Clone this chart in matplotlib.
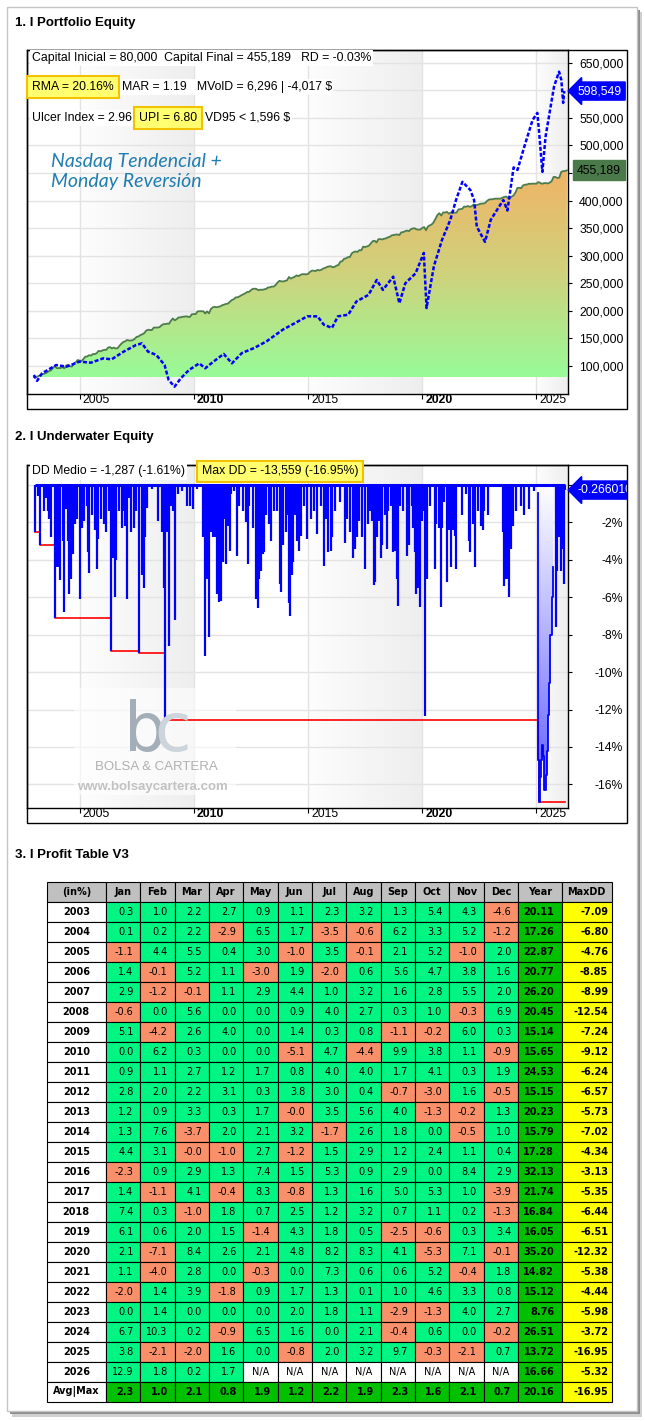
import numpy as np
import matplotlib
matplotlib.use('Agg')
import matplotlib.pyplot as plt
from matplotlib.colors import LinearSegmentedColormap
from matplotlib.patches import Rectangle
from matplotlib.table import Table
from matplotlib.transforms import blended_transform_factory, ScaledTranslation

# ------------------------------------------------------------------
# values
years = list(range(2003, 2027))
month_names = ['Jan', 'Feb', 'Mar', 'Apr', 'May', 'Jun',
               'Jul', 'Aug', 'Sep', 'Oct', 'Nov', 'Dec']

monthly_ret = [
    ['0.3', '1.0', '2.2', '2.7', '0.9', '1.1', '2.3', '3.2', '1.3', '5.4', '4.3', '-4.6'],
    ['0.1', '0.2', '2.2', '-2.9', '6.5', '1.7', '-3.5', '-0.6', '6.2', '3.3', '5.2', '-1.2'],
    ['-1.1', '4.4', '5.5', '0.4', '3.0', '-1.0', '3.5', '-0.1', '2.1', '5.2', '-1.0', '2.0'],
    ['1.4', '-0.1', '5.2', '1.1', '-3.0', '1.9', '-2.0', '0.6', '5.6', '4.7', '3.8', '1.6'],
    ['2.9', '-1.2', '-0.1', '1.1', '2.9', '4.4', '1.0', '3.2', '1.6', '2.8', '5.5', '2.0'],
    ['-0.6', '0.0', '5.6', '0.0', '0.0', '0.9', '4.0', '2.7', '0.3', '1.0', '-0.3', '6.9'],
    ['5.1', '-4.2', '2.6', '4.0', '0.0', '1.4', '0.3', '0.8', '-1.1', '-0.2', '6.0', '0.3'],
    ['0.0', '6.2', '0.3', '0.0', '0.0', '-5.1', '4.7', '-4.4', '9.9', '3.8', '1.1', '-0.9'],
    ['0.9', '1.1', '2.7', '1.2', '1.7', '0.8', '4.0', '4.0', '1.7', '4.1', '0.3', '1.9'],
    ['2.8', '2.0', '2.2', '3.1', '0.3', '3.8', '3.0', '0.4', '-0.7', '-3.0', '1.6', '-0.5'],
    ['1.2', '0.9', '3.3', '0.3', '1.7', '-0.0', '3.5', '5.6', '4.0', '-1.3', '-0.2', '1.3'],
    ['1.3', '7.6', '-3.7', '2.0', '2.1', '3.2', '-1.7', '2.6', '1.8', '0.0', '-0.5', '1.0'],
    ['4.4', '3.1', '-0.0', '-1.0', '2.7', '-1.2', '1.5', '2.9', '1.2', '2.4', '1.1', '0.4'],
    ['-2.3', '0.9', '2.9', '1.3', '7.4', '1.5', '5.3', '0.9', '2.9', '0.0', '8.4', '2.9'],
    ['1.4', '-1.1', '4.1', '-0.4', '8.3', '-0.8', '1.3', '1.6', '5.0', '5.3', '1.0', '-3.9'],
    ['7.4', '0.3', '-1.0', '1.8', '0.7', '2.5', '1.2', '3.2', '0.7', '1.1', '0.2', '-1.3'],
    ['6.1', '0.6', '2.0', '1.5', '-1.4', '4.3', '1.8', '0.5', '-2.5', '-0.6', '0.3', '3.4'],
    ['2.1', '-7.1', '8.4', '2.6', '2.1', '4.8', '8.2', '8.3', '4.1', '-5.3', '7.1', '-0.1'],
    ['1.1', '-4.0', '2.8', '0.0', '-0.3', '0.0', '7.3', '0.6', '0.6', '5.2', '-0.4', '1.8'],
    ['-2.0', '1.4', '3.9', '-1.8', '0.9', '1.7', '1.3', '0.1', '1.0', '4.6', '3.3', '0.8'],
    ['0.0', '1.4', '0.0', '0.0', '0.0', '2.0', '1.8', '1.1', '-2.9', '-1.3', '4.0', '2.7'],
    ['6.7', '10.3', '0.2', '-0.9', '6.5', '1.6', '0.0', '2.1', '-0.4', '0.6', '0.0', '-0.2'],
    ['3.8', '-2.1', '-2.0', '1.6', '0.0', '-0.8', '2.0', '3.2', '9.7', '-0.3', '-2.1', '0.7'],
    ['12.9', '1.8', '0.2', '1.7', 'N/A', 'N/A', 'N/A', 'N/A', 'N/A', 'N/A', 'N/A', 'N/A'],
]
year_ret = ['20.11', '17.26', '22.87', '20.77', '26.20', '20.45', '15.14', '15.65',
            '24.53', '15.15', '20.23', '15.79', '17.28', '32.13', '21.74', '16.84',
            '16.05', '35.20', '14.82', '15.12', '8.76', '26.51', '13.72', '16.66']
year_maxdd = ['-7.09', '-6.80', '-4.76', '-8.85', '-8.99', '-12.54', '-7.24', '-9.12',
              '-6.24', '-6.57', '-5.73', '-7.02', '-4.34', '-3.13', '-5.35', '-6.44',
              '-6.51', '-12.32', '-5.38', '-4.44', '-5.98', '-3.72', '-16.95', '-5.32']
avg_month = ['2.3', '1.0', '2.1', '0.8', '1.9', '1.2', '2.2', '1.9', '2.3', '1.6', '2.1', '0.7']
avg_year = '20.16'
max_maxdd = '-16.95'

capital_ini = 80000
capital_fin = 455189

# benchmark (blue dotted curve)
bench_t = [2003.00, 2003.14, 2003.36, 2003.98, 2004.43, 2005.00, 2005.50, 2006.04, 2006.40,
           2006.93, 2007.47, 2007.73, 2008.00, 2008.36, 2008.72, 2008.90, 2009.16, 2009.43,
           2009.79, 2010.24, 2010.50, 2010.86, 2011.31, 2011.67, 2012.11, 2012.65, 2013.19,
           2013.90, 2014.44, 2014.97, 2015.42, 2015.69, 2016.05, 2016.31, 2016.76, 2017.12,
           2017.65, 2018.01, 2018.28, 2018.73, 2019.00, 2019.26, 2019.71, 2020.07, 2020.19,
           2020.51, 2020.87, 2021.23, 2021.48, 2021.76, 2022.11, 2022.27, 2022.39, 2022.75,
           2023.00, 2023.55, 2023.73, 2024.00, 2024.17, 2024.47, 2024.83, 2025.04, 2025.12,
           2025.26, 2025.40, 2025.62, 2025.77, 2025.99, 2026.09, 2026.17, 2026.22]
bench_v = [83700, 73000, 86700, 101800, 98800, 107900, 106000, 113900, 112000,
           126000, 138000, 141000, 126000, 120000, 102000, 74600, 62500, 77600,
           92700, 104800, 95800, 107900, 121800, 104800, 123600, 132700, 144800,
           165900, 178000, 190100, 190000, 175000, 169000, 190000, 193000, 217000,
           229000, 256000, 238000, 262000, 213700, 250000, 268000, 305000, 205000,
           280700, 329000, 365000, 401000, 434000, 419000, 401000, 352600, 325000,
           365000, 401000, 382000, 460000, 455500, 497700, 546000, 559000, 522600,
           452000, 516000, 570000, 606600, 633700, 618700, 577000, 598549]

# underwater spikes (% of initial capital)
dd_t = [2003.06, 2003.20, 2003.25, 2003.43, 2003.54, 2003.61, 2003.68, 2003.75, 2003.93,
        2004.01, 2004.09, 2004.16, 2004.26, 2004.33, 2004.41, 2004.48, 2004.54, 2004.62,
        2004.70, 2004.80, 2004.91, 2005.03, 2005.10, 2005.20, 2005.32, 2005.39, 2005.43,
        2005.54, 2005.68, 2005.75, 2005.81, 2005.93, 2006.07, 2006.17, 2006.29, 2006.39,
        2006.48, 2006.54, 2006.61, 2006.72, 2006.84, 2006.91, 2007.01, 2007.09, 2007.16,
        2007.26, 2007.38, 2007.49, 2007.61, 2007.74, 2007.81, 2007.88, 2007.96, 2008.17,
        2008.42, 2008.61, 2008.70, 2008.75, 2008.83, 2008.90, 2009.00, 2009.09, 2009.19,
        2009.33, 2009.48, 2009.72, 2009.84, 2009.96, 2010.13, 2010.42, 2010.49, 2010.58,
        2010.65, 2010.77, 2010.84, 2010.91, 2011.01, 2011.09, 2011.16, 2011.20, 2011.28,
        2011.35, 2011.42, 2011.49, 2011.57, 2011.64, 2011.78, 2011.88, 2012.00, 2012.15,
        2012.29, 2012.36, 2012.43, 2012.58, 2012.72, 2012.81, 2012.87, 2012.94, 2013.01,
        2013.09, 2013.16, 2013.28, 2013.39, 2013.52, 2013.64, 2013.77, 2013.84, 2013.91,
        2014.03, 2014.10, 2014.17, 2014.23, 2014.29, 2014.35, 2014.43, 2014.54, 2014.61,
        2014.68, 2014.83, 2014.94, 2015.12, 2015.26, 2015.41, 2015.55, 2015.72, 2015.80,
        2015.88, 2015.99, 2016.06, 2016.20, 2016.38, 2016.64, 2016.71, 2016.86, 2016.97,
        2017.07, 2017.15, 2017.25, 2017.36, 2017.51, 2017.62, 2017.72, 2017.80, 2017.90,
        2017.94, 2018.01, 2018.12, 2018.20, 2018.26, 2018.38, 2018.46, 2018.52, 2018.62,
        2018.71, 2018.78, 2018.81, 2018.90, 2018.96, 2019.03, 2019.17, 2019.32, 2019.43,
        2019.54, 2019.61, 2019.68, 2019.75, 2019.83, 2019.90, 2019.97, 2020.04, 2020.12,
        2020.19, 2020.33, 2020.55, 2020.62, 2020.74, 2020.81, 2020.88, 2020.96, 2021.10,
        2021.17, 2021.28, 2021.35, 2021.42, 2021.49, 2021.72, 2021.93, 2022.04, 2022.10,
        2022.22, 2022.29, 2022.43, 2022.58, 2022.65, 2022.72, 2022.87, 2023.52, 2023.59,
        2023.67, 2023.74, 2023.80, 2023.88, 2023.96, 2024.10, 2024.32, 2024.46, 2024.68,
        2024.90, 2025.84, 2025.91, 2025.99, 2026.06, 2026.13, 2026.20, 2026.23]
dd_v = [-2.5, -0.6, -3.2, -1.4, -0.7, -1.4, -1.8, -2.8, -7.1,
        -4.4, -4.4, -5.1, -3.0, -6.8, -1.3, -3.0, -5.8, -5.0,
        -3.7, -2.1, -1.8, -6.1, -2.3, -1.9, -1.1, -3.6, -4.7,
        -1.6, -2.4, -4.5, -2.9, -1.8, -2.1, -2.5, -1.4, -8.85,
        -3.9, -6.0, -4.0, -1.4, -2.3, -1.4, -2.2, -6.1, -0.7,
        -2.5, -2.3, -1.4, -8.99, -4.8, -5.5, -2.8, -1.2, -0.2,
        -1.9, -2.5, -5.5, -12.54, -2.5, -8.6, -1.1, -1.4, -7.2,
        -0.5, -0.3, -1.1, -1.1, -1.3, -0.2, -2.8, -9.12, -5.0,
        -8.1, -2.5, -2.8, -2.8, -5.8, -6.24, -6.0, -6.2, -4.1,
        -1.8, -4.2, -2.2, -3.5, -0.5, -0.3, -3.8, -1.1, -1.4,
        -2.0, -4.2, -1.1, -2.3, -6.1, -6.57, -5.0, -4.6, -3.7,
        -3.6, -1.6, -2.1, -3.0, -1.4, -1.4, -5.3, -5.7, -3.2,
        -2.5, -1.6, -6.3, -7.0, -4.8, -4.1, -1.6, -3.0, -3.5,
        -2.7, -1.1, -2.9, -1.8, -1.4, -2.6, -1.1, -4.3, -1.8,
        -3.6, -3.5, -2.8, -1.4, -0.9, -3.1, -1.8, -2.5, -3.9,
        -3.4, -2.8, -1.9, -2.8, -4.5, -2.1, -1.4, -1.9, -5.35,
        -5.2, -2.8, -1.9, -3.9, -3.2, -1.6, -3.4, -1.4, -1.1,
        -3.6, -2.8, -3.5, -5.0, -6.44, -1.1, -1.4, -3.8, -3.2,
        -1.1, -2.3, -3.6, -5.8, -5.5, -6.51, -1.9, -1.4, -12.32,
        -5.0, -1.1, -4.5, -2.1, -2.3, -6.5, -2.3, -0.9, -5.2,
        -2.4, -4.4, -2.4, -2.7, -4.5, -1.6, -0.5, -3.0, -3.6,
        -2.1, -4.4, -1.4, -2.2, -2.4, -1.4, -1.6, -2.5, -5.4,
        -5.0, -5.0, -5.98, -3.4, -2.2, -1.4, -1.1, -1.6, -1.3,
        -0.3, -7.6, -4.6, -2.8, -4.6, -3.4, -5.3, -0.26601]

# 2025 sustained drawdown (curve does not go back to 0 in between)
dd25_t = [2025.05, 2025.09, 2025.12, 2025.16, 2025.20, 2025.25, 2025.30, 2025.35,
          2025.40, 2025.45, 2025.50, 2025.55, 2025.60, 2025.67, 2025.74]
dd25_v = [-0.4, -14.7, -16.95, -15.6, -14.7, -13.9, -14.5, -16.3,
          -15.5, -14.2, -12.3, -10.6, -8.0, -6.0, -4.4]

# ------------------------------------------------------------------
W, H = 645, 1421
fig = plt.figure(figsize=(W / 100, H / 100), dpi=100)
fig.patch.set_facecolor('white')

TXT = 'Liberation Sans'


def ax_px(x0, y0, x1, y1):
    return fig.add_axes([x0 / W, 1 - y1 / H, (x1 - x0) / W, (y1 - y0) / H])


def ftext(x, y, s, **kw):
    return fig.text(x / W, 1 - y / H, s, **kw)


def frect(x0, y0, x1, y1, **kw):
    r = Rectangle((x0 / W, 1 - y1 / H), (x1 - x0) / W, (y1 - y0) / H,
                  transform=fig.transFigure, **kw)
    fig.add_artist(r)
    return r


# card + shadow
frect(12, 12, 642, 1417, fc='#d0d0d0', ec='none', zorder=-4)
frect(10, 10, 640, 1414, fc='#8e8e8e', ec='none', zorder=-3)
frect(7, 7, 637, 1411, fc='white', ec='#c4c4c4', lw=1, zorder=-2)

clip_fig = Rectangle((0, 0), 627 / W, 1, transform=fig.transFigure)

XL = (2002.70, 2026.36)
band_cmap = LinearSegmentedColormap.from_list('band', ['#fdfdfd', '#eeeeee'])
bands = [(2005, 2010), (2015, 2020), (2025, XL[1])]
xt = [2005, 2010, 2015, 2020, 2025]


def setup_common(ax, ylo, yhi):
    ax.set_xlim(*XL)
    ax.set_ylim(ylo, yhi)
    for a, b in bands:
        ax.imshow(np.linspace(0, 1, 64).reshape(1, -1), extent=(a, b, ylo, yhi),
                  cmap=band_cmap, aspect='auto', zorder=0)
    ax.set_xticks(xt)
    ax.set_xticklabels([str(v) for v in xt])
    ax.tick_params(axis='x', direction='out', length=3.6, width=0.8, pad=-3.6,
                   labelsize=8.8)
    off = ScaledTranslation(3 / 100, 0, fig.dpi_scale_trans)
    for lab, v in zip(ax.get_xticklabels(), xt):
        lab.set_ha('left')
        lab.set_va('top')
        lab.set_fontfamily(TXT)
        lab.set_transform(lab.get_transform() + off)
        if v % 10 == 0:
            lab.set_fontweight('bold')
    ax.grid(True, color='#e3e3e3', lw=1, zorder=0.5)
    ax.set_axisbelow(True)
    ax.yaxis.tick_right()
    for sp in ax.spines.values():
        sp.set_color('black')
        sp.set_linewidth(1)
    ax.set_xlim(*XL)
    ax.set_ylim(ylo, yhi)


# ------------------------------------------------------------------
# 1. Portfolio equity
ftext(15, 23, '1. I Portfolio Equity', fontsize=9.5, fontweight='bold',
      family=TXT, va='center')

eq_t = [2003.0]
eq_v = [capital_ini]
acc = 0.0
for yr, row in zip(years, monthly_ret):
    for m, s in enumerate(row):
        if s == 'N/A':
            continue
        acc += float(s)
        eq_t.append(yr + (m + 1) / 12)
        eq_v.append(capital_ini * (1 + acc / 100))

ax1 = ax_px(27, 50, 567.5, 394)
setup_common(ax1, 49200, 673000)
ax1.set_yticks(np.arange(100000, 650001, 50000))
ax1.set_yticklabels([f'{v:,.0f}' for v in np.arange(100000, 650001, 50000)])
ax1.tick_params(axis='y', direction='out', length=3, width=0.8, pad=5.4,
                labelsize=8.8)
for lab in ax1.get_yticklabels():
    lab.set_fontfamily(TXT)

eq_cmap = LinearSegmentedColormap.from_list('eq', ['#98fb98', '#cfd27c', '#f0b466'])
poly = ax1.fill_between(eq_t, capital_ini, eq_v, color='none', lw=0)
im = ax1.imshow(np.linspace(0, 1, 256).reshape(-1, 1),
                extent=(eq_t[0], eq_t[-1], capital_ini, max(eq_v)),
                origin='lower', aspect='auto', cmap=eq_cmap, zorder=1)
im.set_clip_path(poly.get_paths()[0], transform=ax1.transData)
ax1.plot(eq_t, eq_v, color='#4d7d4d', lw=1.3, zorder=3)
ax1.plot(bench_t, bench_v, color='#0000ff', lw=1.8, dashes=(1.6, 0.8), zorder=4)
ax1.set_xlim(*XL)
ax1.set_ylim(49200, 673000)

tr1 = blended_transform_factory(ax1.transAxes, ax1.transData)
t = ax1.text(1.0194, bench_v[-1], f'{bench_v[-1]:,.0f}', transform=tr1,
             color='white', fontsize=8.8, family=TXT, va='center', ha='left',
             bbox=dict(boxstyle='larrow,pad=0.25', fc='#0000ff', ec='#0000ff'),
             zorder=10)
t.set_clip_on(True)
t.set_clip_path(clip_fig)
t = ax1.text(1.0176, capital_fin, f'{capital_fin:,.0f}', transform=tr1,
             color='black', fontsize=8.8, family=TXT, va='center', ha='left',
             bbox=dict(boxstyle='square,pad=0.3', fc='#4a7a4a', ec='#4a7a4a'),
             zorder=10)
t.set_clip_on(True)
t.set_clip_path(clip_fig)

frect(27, 50, 627, 409.3, fc='none', ec='black', lw=1, zorder=5)

white = dict(fc='white', ec='none', pad=1.5)
yellow = dict(boxstyle='square,pad=0.4', fc='#ffff70', ec='#f2c200', lw=1.5)
kw = dict(fontsize=8.8, family=TXT, va='center', ha='left', zorder=6)
ftext(32, 58, 'Capital Inicial = 80,000  Capital Final = 455,189   RD = -0.03%',
      bbox=white, **kw)
ftext(32, 87, 'RMA = 20.16%', bbox=yellow, **kw)
ftext(122, 87, 'MAR = 1.19   MVolD = 6,296 | -4,017 $', bbox=white, **kw)
ftext(32, 118, 'Ulcer Index = 2.96', bbox=white, **kw)
ftext(139, 118, 'UPI = 6.80', bbox=yellow, **kw)
ftext(205, 118, 'VD95 < 1,596 $', bbox=white, **kw)
ftext(51, 162, 'Nasdaq Tendencial +', fontsize=14, family='Lato', style='italic',
      color='#1f7db0', va='center', zorder=6)
ftext(51, 181, 'Monday Reversión', fontsize=14, family='Lato', style='italic',
      color='#1f7db0', va='center', zorder=6)

# ------------------------------------------------------------------
# 2. Underwater equity
ftext(15, 437, '2. I Underwater Equity', fontsize=9.5, fontweight='bold',
      family=TXT, va='center')

ax2 = ax_px(27, 464.5, 567.5, 808.3)
YL2 = (-17.28, 1.1)
setup_common(ax2, *YL2)
ax2.set_yticks(np.arange(0, -17, -2))
ax2.set_yticklabels([f'{v}%' for v in np.arange(0, -17, -2)])
ax2.tick_params(axis='y', direction='out', length=3, width=0.8, pad=37,
                labelsize=8.8)
for lab in ax2.get_yticklabels():
    lab.set_fontfamily(TXT)
    lab.set_ha('right')

# watermark
ax2.add_patch(Rectangle((0.087, 0.04), 0.3, 0.31, transform=ax2.transAxes,
                        fc='white', ec='none', alpha=0.6, zorder=0.6))
ftext(124, 751, 'b', fontsize=48, family='DejaVu Sans',
      color='#a3aeb9', va='baseline', zorder=1)
ftext(154, 751, 'c', fontsize=48, family='DejaVu Sans',
      color='#cdd4db', va='baseline', zorder=1)
ftext(156.5, 767, 'BOLSA & CARTERA', fontsize=9.5, family=TXT, color='#b0b0b0',
      ha='center', va='center', zorder=1)
ftext(152.5, 787, 'www.bolsaycartera.com', fontsize=9.5, family=TXT,
      fontweight='bold', color='#c2c2c2', ha='center', va='center', zorder=1)

all_t = np.array(dd_t + dd25_t)
all_v = np.array(dd_v + dd25_v)
order = np.argsort(all_t)
all_t, all_v = all_t[order], all_v[order]
run_min = np.minimum.accumulate(all_v)
ax2.plot(all_t, run_min, drawstyle='steps-post', color='#ff0000', lw=1.2, zorder=2)

uw_cmap = LinearSegmentedColormap.from_list('uw', ['#ffffff', '#5858ff'])
poly2 = ax2.fill_between(dd25_t, dd25_v, 0, step='post', color='none', lw=0)
im2 = ax2.imshow(np.linspace(0, 1, 256).reshape(-1, 1),
                 extent=(dd25_t[0], dd25_t[-1], YL2[0], 0),
                 origin='upper', aspect='auto', cmap=uw_cmap, zorder=1.5)
im2.set_clip_path(poly2.get_paths()[0], transform=ax2.transData)
ax2.plot(dd25_t, dd25_v, drawstyle='steps-post', color='#0000ff', lw=1.3, zorder=3)
ax2.vlines(dd_t, 0, dd_v, color='#0000ff', lw=1.6, zorder=3)
ax2.hlines(0, all_t[0], all_t[-1], color='#0000ff', lw=2.2, zorder=3)
ax2.set_xlim(*XL)
ax2.set_ylim(*YL2)

tr2 = blended_transform_factory(ax2.transAxes, ax2.transData)
t = ax2.text(1.0194, dd_v[-1], f'{dd_v[-1]:.6f}', transform=tr2,
             color='white', fontsize=8.8, family=TXT, va='center', ha='left',
             bbox=dict(boxstyle='larrow,pad=0.25', fc='#0000ff', ec='#0000ff'),
             zorder=10)
t.set_clip_on(True)
t.set_clip_path(clip_fig)

frect(27, 464.5, 627, 822.7, fc='none', ec='black', lw=1, zorder=5)
ftext(32, 471.5, 'DD Medio = -1,287 (-1.61%)', bbox=white, **kw)
ftext(202, 471.5, 'Max DD = -13,559 (-16.95%)', bbox=yellow, **kw)

# ------------------------------------------------------------------
# 3. Profit table
ftext(15, 855, '3. I Profit Table V3', fontsize=9.5, fontweight='bold',
      family=TXT, va='center')

ax3 = ax_px(46.7, 881.7, 611.7, 1401.7)
ax3.axis('off')
GREEN, RED, DGREEN, YEL, GREY = '#00f582', '#f9906a', '#00c000', '#ffff00', '#c0c0c0'
col_w = np.array([59.2] + [34.35] * 12 + [43.7, 50.0])
col_w = col_w / col_w.sum()
n_rows = len(years) + 2
rh = 1 / n_rows
tbl = Table(ax3, bbox=[0, 0, 1, 1])


def put(r, c, s, fc, loc='right', bold=False, pad=0.2):
    cell = tbl.add_cell(r, c, width=col_w[c], height=rh, text=s, loc=loc,
                        facecolor=fc, edgecolor='black')
    cell.set_linewidth(0.8)
    cell.PAD = pad
    txt = cell.get_text()
    txt.set_fontsize(7)
    txt.set_fontfamily('DejaVu Sans')
    if bold:
        txt.set_fontweight('bold')
    return cell


header = ['(in%)'] + month_names + ['Year', 'MaxDD']
for c, s in enumerate(header):
    put(0, c, s, GREY, loc='center', bold=True)
for i, yr in enumerate(years):
    r = i + 1
    put(r, 0, str(yr), 'white', loc='center', bold=True)
    for m, s in enumerate(monthly_ret[i]):
        if s == 'N/A':
            put(r, m + 1, s, 'white', loc='center')
        else:
            put(r, m + 1, s, RED if s.startswith('-') else GREEN)
    put(r, 13, year_ret[i], DGREEN, bold=True, pad=0.17)
    put(r, 14, year_maxdd[i], YEL, bold=True, pad=0.07)
r = len(years) + 1
put(r, 0, 'Avg|Max', 'white', loc='center', bold=True)
for m, s in enumerate(avg_month):
    put(r, m + 1, s, DGREEN, bold=True)
put(r, 13, avg_year, DGREEN, bold=True, pad=0.17)
put(r, 14, max_maxdd, YEL, bold=True, pad=0.07)
tbl.auto_set_font_size(False)
ax3.add_table(tbl)

fig.savefig('out.png', dpi=100, facecolor='white')
